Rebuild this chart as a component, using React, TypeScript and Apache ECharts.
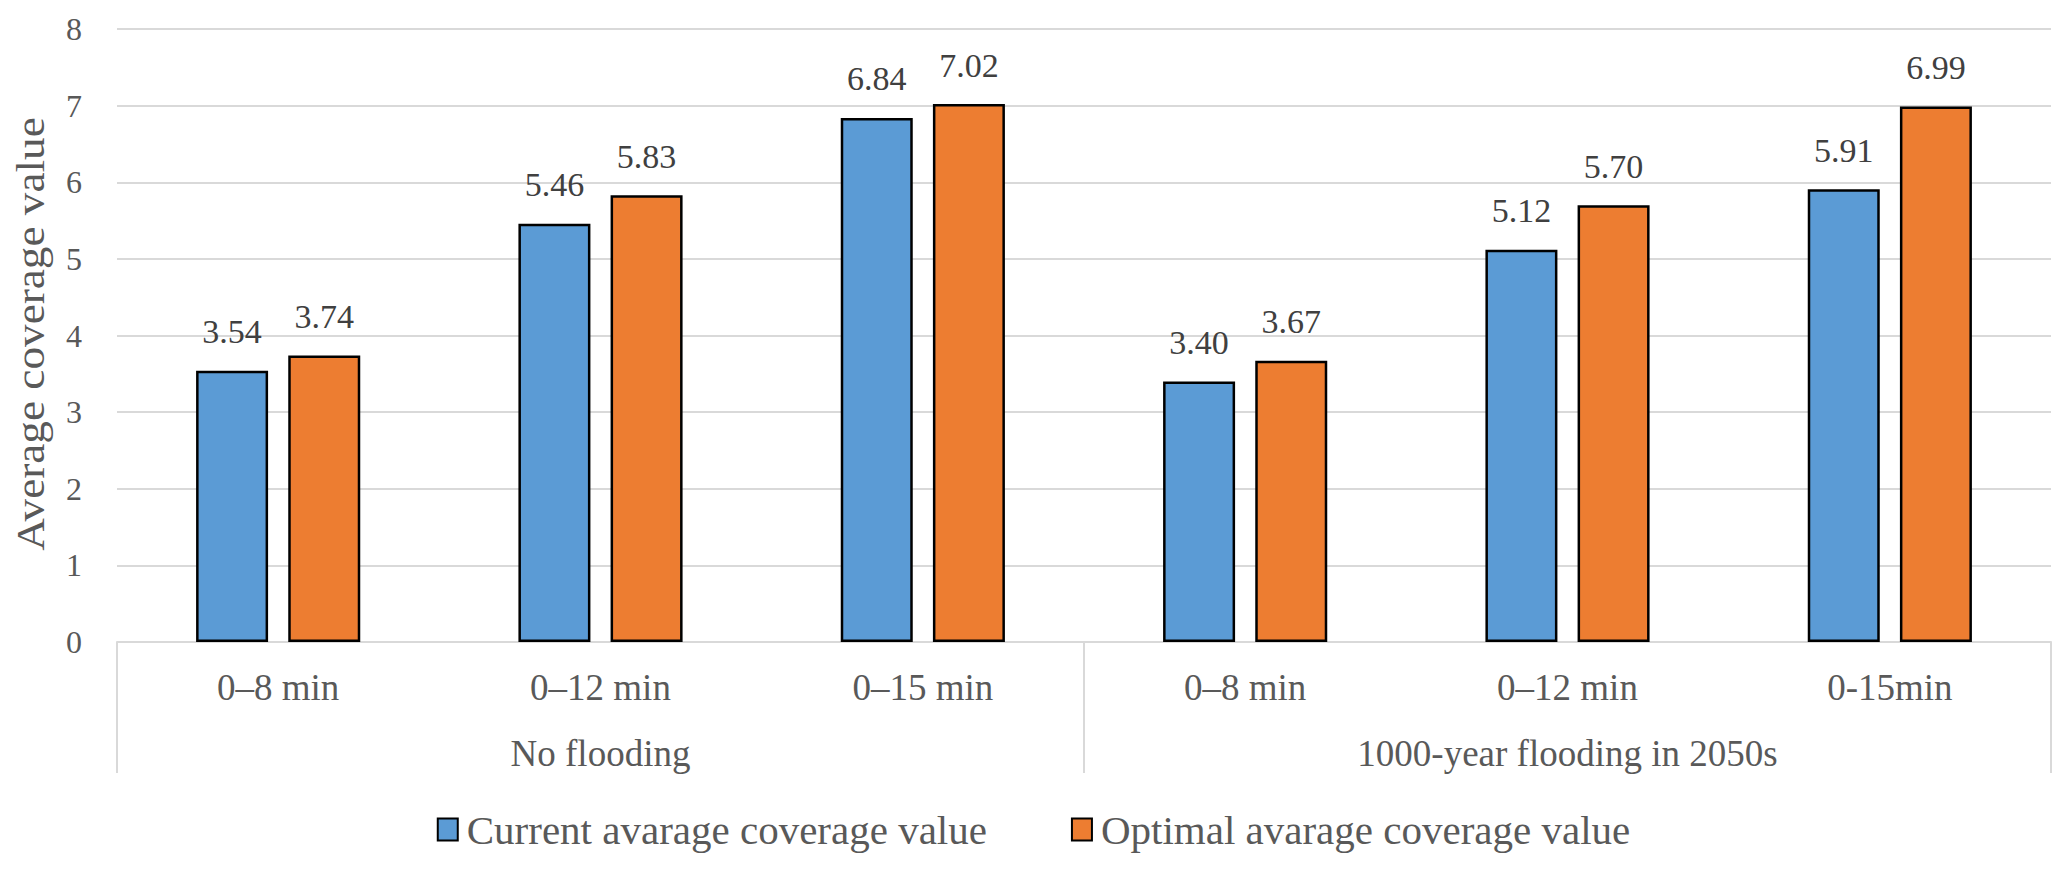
import React, { useEffect, useRef } from "react";
import * as echarts from "echarts";

const categories = ["0–8 min", "0–12 min", "0–15 min", "0–8 min", "0–12 min", "0-15min"];
const groups = ["No flooding", "1000-year flooding in 2050s"];
const currentValues = [3.54, 5.46, 6.84, 3.4, 5.12, 5.91];
const optimalValues = [3.74, 5.83, 7.02, 3.67, 5.7, 6.99];
const seriesNames = ["Current avarage coverage value", "Optimal avarage coverage value"];
const yAxisTitle = "Average coverage value";
const yTicks = { min: 0, max: 8, interval: 1 };

const FONT = "'Liberation Serif', 'Times New Roman', serif";

export default function App() {
  const ref = useRef<HTMLDivElement>(null);
  useEffect(() => {
    if (!ref.current) return;
    const chart = echarts.init(ref.current, undefined, { renderer: "svg" });
    const labelStyle = {
      show: true,
      position: "top",
      distance: 22,
      fontSize: 34,
      fontFamily: FONT,
      color: "#404040",
      formatter: (p: any) => Number(p.value).toFixed(2),
    };
    chart.setOption({
      animation: false,
      backgroundColor: "#ffffff",
      textStyle: { fontFamily: FONT },
      grid: { left: 109, right: 8, top: 21, bottom: 220, containLabel: false },
      graphic: [
        {
          type: "text",
          x: 23,
          y: 326,
          rotation: Math.PI / 2,
          scaleX: 1.16,
          style: {
            text: yAxisTitle,
            fontSize: 39,
            fontFamily: FONT,
            fill: "#595959",
            align: "center",
            verticalAlign: "middle",
          },
        },
      ],
      legend: {
        bottom: 7,
        left: "center",
        itemWidth: 20,
        itemHeight: 22,
        itemGap: 84,
        icon: "rect",
        textStyle: { fontSize: 41, fontFamily: FONT, color: "#595959", padding: [0, 0, 0, 4] },
        data: seriesNames,
      },
      xAxis: [
        {
          type: "category",
          data: categories,
          position: "bottom",
          axisLine: { show: true, lineStyle: { color: "#d9d9d9", width: 2 } },
          axisTick: { show: false },
          axisLabel: {
            fontSize: 37,
            fontFamily: FONT,
            color: "#595959",
            margin: 25,
            lineHeight: 40,
            interval: 0,
          },
        },
        {
          type: "category",
          data: groups,
          position: "bottom",
          axisLine: { show: false },
          axisTick: { show: true, length: 131, lineStyle: { color: "#d9d9d9", width: 2 } },
          axisLabel: {
            fontSize: 37,
            fontFamily: FONT,
            color: "#595959",
            margin: 91,
            lineHeight: 40,
            interval: 0,
          },
        },
      ],
      yAxis: {
        type: "value",
        min: yTicks.min,
        max: yTicks.max,
        interval: yTicks.interval,
        axisLine: { show: false },
        axisTick: { show: false },
        axisLabel: { fontSize: 32, fontFamily: FONT, color: "#595959", margin: 35 },
        splitLine: { lineStyle: { color: "#d9d9d9", width: 2 } },
      },
      series: [
        {
          name: seriesNames[0],
          type: "bar",
          data: currentValues,
          barWidth: 72,
          barGap: "28%",
          itemStyle: { color: "#5B9BD5", borderColor: "#000000", borderWidth: 2.5 },
          label: labelStyle,
        },
        {
          name: seriesNames[1],
          type: "bar",
          data: optimalValues,
          barWidth: 72,
          barGap: "28%",
          itemStyle: { color: "#ED7D31", borderColor: "#000000", borderWidth: 2.5 },
          label: labelStyle,
        },
      ],
    });
    return () => chart.dispose();
  }, []);
  return <div ref={ref} style={{ width: 2051, height: 854 }} />;
}
